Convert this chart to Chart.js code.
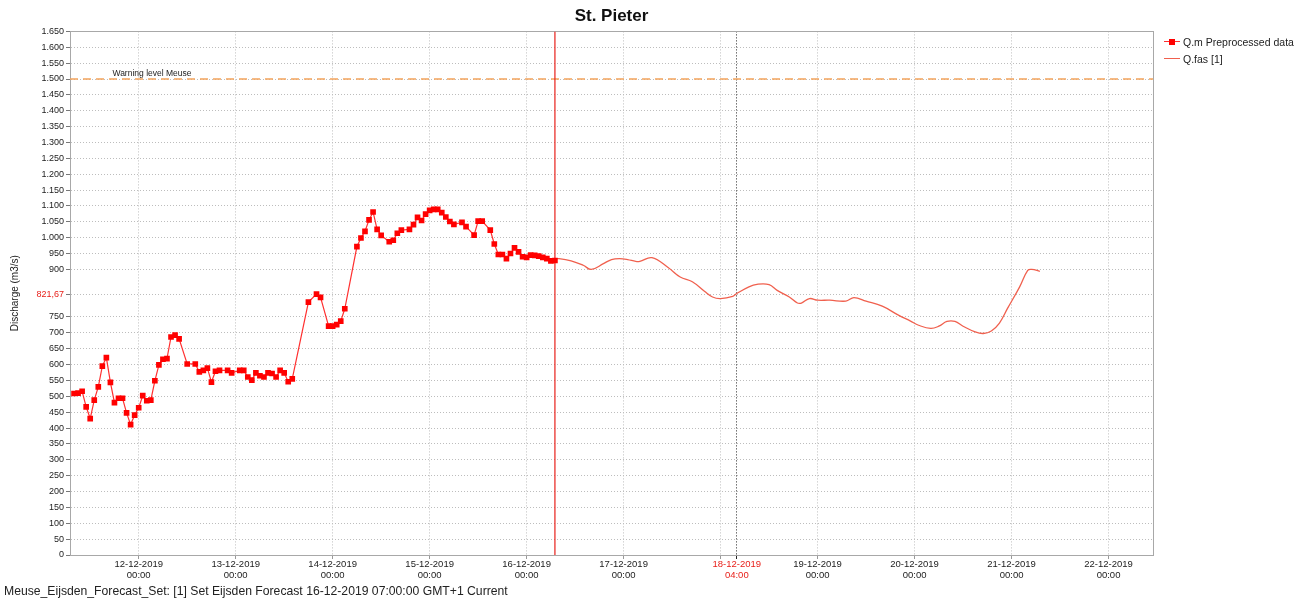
<!DOCTYPE html>
<html>
<head>
<meta charset="utf-8">
<script src="https://cdn.jsdelivr.net/npm/chart.js@4.4.1/dist/chart.umd.min.js"></script>
<style>
html,body{margin:0;padding:0;background:#fff;}
#wrap{position:relative;width:1309px;height:603px;overflow:hidden;background:#fff;}
#c{position:absolute;left:0;top:0;}
#legend{position:absolute;left:1164px;top:33px;font:10.5px "Liberation Sans",Arial,sans-serif;color:#222;}
.li{display:flex;align-items:center;height:17px;white-space:nowrap;}
.sw{position:relative;width:16px;height:10px;margin-right:3px;}
.sw .ln{position:absolute;left:0;top:4.5px;width:16px;height:1.3px;}
.sw .mk{position:absolute;left:5px;top:2px;width:6px;height:6px;background:#ff0000;}
#footer{position:absolute;left:4px;top:584px;font:12.2px "Liberation Sans",Arial,sans-serif;color:#222;white-space:nowrap;}
</style>
</head>
<body>
<div id="wrap">
<canvas id="c" width="1309" height="603"></canvas>
<div id="legend">
  <div class="li"><div class="sw"><div class="ln" style="background:#ff3030"></div><div class="mk"></div></div>Q.m Preprocessed data</div>
  <div class="li"><div class="sw"><div class="ln" style="background:#f0604e"></div></div>Q.fas [1]</div>
</div>
<div id="footer">Meuse_Eijsden_Forecast_Set: [1] Set Eijsden Forecast 16-12-2019 07:00:00 GMT+1 Current</div>
</div>
<script>
// Hours are counted from 12-12-2019 00:00 (GMT+1)
const xMinHour = -17;   // 11-12-2019 07:00
const xMaxHour = 251;   // 22-12-2019 11:00
const forecastTimeHour = 103; // 16-12-2019 07:00
const markerHour = 148;       // 18-12-2019 04:00

const obsHours = [-16,-15,-14,-13,-12,-11,-10,-9,-8,-7,-6,-5,-4,-3,-2,-1,0,1,2,3,4,5,6,7,8,9,10,12,14,15,16,17,18,19,20,22,23,25,26,27,28,29,30,31,32,33,34,35,36,37,38,42,44,45,47,48,49,50,51,54,55,56,57,58,59,60,62,63,64,65,67,68,69,70,71,72,73,74,75,76,77,78,80,81,83,84,85,87,88,89,90,91,92,93,94,95,96,97,98,99,100,101,102,103];
const obsValues = [509,510,516,467,430,488,530,595,622,544,480,494,494,448,411,441,464,502,486,488,549,599,617,619,687,693,681,602,602,577,582,589,545,579,582,582,574,582,582,561,551,574,565,561,574,572,561,582,574,546,555,797,822,812,721,721,726,737,776,972,999,1020,1056,1081,1026,1007,987,992,1014,1024,1026,1041,1064,1054,1074,1086,1089,1089,1079,1065,1051,1042,1048,1035,1008,1052,1052,1024,980,947,947,934,950,968,955,940,938,945,944,942,938,934,927,928];

const fcHours = [103,104,107,110,112,115,117,119,121,123,124,127,131,134,137,140,142,144,147,148,151,153,156,158,161,163,164,166,168,171,175,177,180,184,188,191,193,196,198,200,202,204,207,209,211,213,215,218,220,221,223];
const fcValues = [933,934,927,913,900,918,931,934,931,925,925,937,906,876,861,831,813,808,815,824,845,853,852,834,813,794,794,808,803,803,800,811,800,784,756,737,724,714,721,736,736,721,703,698,706,731,777,845,897,900,894];

const warningLevel = 1500;
const warningText = 'Warning level Meuse';
const warningLabelHour = -6.5;

const yTickValues = [0,50,100,150,200,250,300,350,400,450,500,550,600,650,700,750,821.67,900,950,1000,1050,1100,1150,1200,1250,1300,1350,1400,1450,1500,1550,1600,1650];
const highlightY = 821.67;

const xTickHours = [0,24,48,72,96,120,144,148,168,192,216,240];
const xTickLabels = [
  ['12-12-2019','00:00'],['13-12-2019','00:00'],['14-12-2019','00:00'],['15-12-2019','00:00'],
  ['16-12-2019','00:00'],['17-12-2019','00:00'],'',['18-12-2019','04:00'],
  ['19-12-2019','00:00'],['20-12-2019','00:00'],['21-12-2019','00:00'],['22-12-2019','00:00']
];

function fmtY(v){
  const parts = String(v).split('.');
  const int = parts[0].replace(/\B(?=(\d{3})+(?!\d))/g,'.');
  return parts[1] ? int + ',' + parts[1] : int;
}

const plotBorder = {
  id:'plotBorder',
  beforeDatasetsDraw(chart){
    const a = chart.chartArea, ctx = chart.ctx;
    ctx.save(); ctx.strokeStyle = '#a8a8a8'; ctx.lineWidth = 1;
    ctx.strokeRect(Math.round(a.left)+0.5, Math.round(a.top)+0.5, Math.round(a.right-a.left), Math.round(a.bottom-a.top));
    ctx.restore();
  }
};
const warningLabel = {
  id:'warningLabel',
  afterDatasetsDraw(chart){
    const {ctx, scales:{x,y}} = chart;
    ctx.save();
    ctx.font = '8.5px "Liberation Sans", Arial, sans-serif';
    ctx.fillStyle = '#222';
    ctx.textBaseline = 'alphabetic';
    ctx.fillText(warningText, x.getPixelForValue(warningLabelHour), y.getPixelForValue(warningLevel) - 3);
    ctx.restore();
  }
};

const pts = (xs, ys) => xs.map((h,i)=>({x:h, y:ys[i]}));

new Chart(document.getElementById('c'), {
  type:'line',
  data:{
    datasets:[
      {label:'Q.m Preprocessed data', data:pts(obsHours, obsValues), borderColor:'#ff3030', borderWidth:1.2,
       pointStyle:'rect', pointRadius:4, pointBackgroundColor:'#ff0000', pointBorderWidth:0, tension:0},
      {label:'Q.fas [1]', data:pts(fcHours, fcValues), borderColor:'#f0604e', borderWidth:1.3, pointRadius:0,
       tension:0.4},
      {label:'forecast time', data:[{x:forecastTimeHour,y:0},{x:forecastTimeHour,y:1650}], borderColor:'#e8201a', borderWidth:1.2, pointRadius:0},
      {label:'warning', data:[{x:xMinHour,y:warningLevel},{x:xMaxHour,y:warningLevel}], borderColor:'#f4a45c', borderWidth:1.6, borderDash:[8,5], pointRadius:0}
    ]
  },
  options:{
    responsive:false, animation:false, devicePixelRatio:1,
    layout:{padding:{left:0,right:156,top:0,bottom:0}},
    plugins:{
      legend:{display:false}, tooltip:{enabled:false},
      title:{display:true, text:'St. Pieter', fullSize:false, color:'#111',
        font:{family:'"Liberation Sans", Arial, sans-serif', size:17, weight:'bold'}, padding:{top:6,bottom:5}}
    },
    scales:{
      x:{type:'linear', min:xMinHour, max:xMaxHour,
        afterBuildTicks(s){ s.ticks = xTickHours.map(v=>({value:v})); },
        afterFit(s){ s.height = 48; },
        ticks:{autoSkip:false, maxRotation:0, padding:-1,
          font:{family:'"Liberation Sans", Arial, sans-serif', size:9.5, lineHeight:1.25},
          color:(c)=> c.tick && c.tick.value===markerHour ? '#e8201a' : '#222',
          callback:(v)=>{ const i = xTickHours.indexOf(v); return i>=0 ? xTickLabels[i] : ''; }},
        grid:{color:(c)=> c.tick && c.tick.value===markerHour ? '#222' : '#bdbdbd', lineWidth:1, tickLength:4,
          tickColor:(c)=> c.tick && c.tick.value===markerHour ? '#222' : '#999'},
        border:{display:true, color:'#999', width:1, dash:[1,2]}
      },
      y:{type:'linear', min:0, max:1650,
        afterBuildTicks(s){ s.ticks = yTickValues.map(v=>({value:v})); },
        afterFit(s){ s.width = 70; },
        ticks:{autoSkip:false, padding:2,
          font:{family:'"Liberation Sans", Arial, sans-serif', size:9},
          color:(c)=> c.tick && c.tick.value===highlightY ? '#e8201a' : '#222',
          callback:(v)=> fmtY(v)},
        grid:{color:'#bdbdbd', lineWidth:1, tickLength:4, tickColor:'#777'},
        border:{display:true, color:'#999', width:1, dash:[1,2]},
        title:{display:true, text:'Discharge (m3/s)', color:'#222',
          font:{family:'"Liberation Sans", Arial, sans-serif', size:10}, padding:{top:9,bottom:0}}
      }
    }
  },
  plugins:[plotBorder, warningLabel]
});
</script>
</body>
</html>
